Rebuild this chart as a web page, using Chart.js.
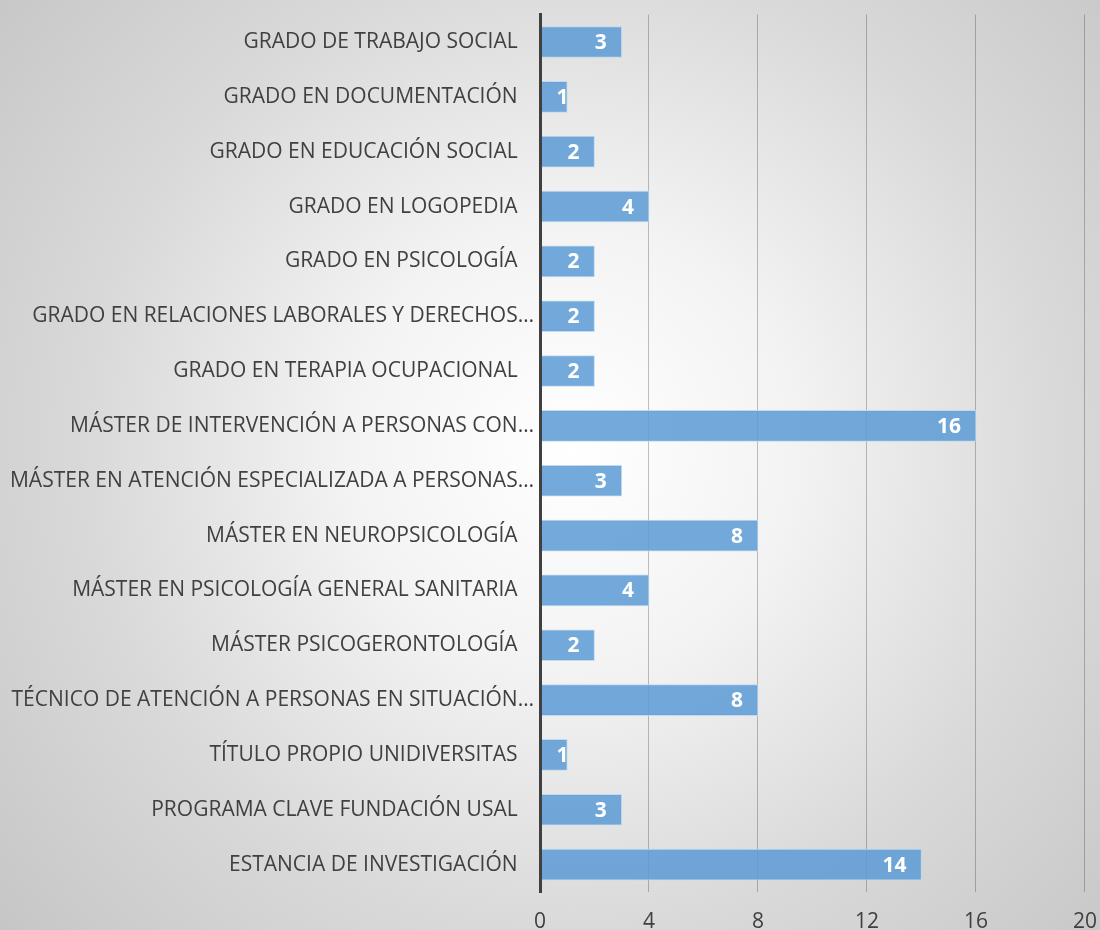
<!DOCTYPE html>
<html lang="es">
    <head>
        <meta charset="UTF-8" />
        <title>Prácticas por titulación</title>
        <style>
            html,
            body {
                margin: 0;
                padding: 0;
                width: 1100px;
                height: 930px;
                overflow: hidden;
                background: radial-gradient(
                    circle at 52% 48%,
                    #ffffff 0%,
                    #f3f3f3 30%,
                    #d9d9d9 65%,
                    #c6c6c6 100%
                );
                font-family: "Open Sans", sans-serif;
            }

            canvas {
                position: absolute;
                left: 0;
                top: -4px;
            }
        </style>
        <script src="https://cdn.jsdelivr.net/npm/chart.js@4"></script>
    </head>
    <body>
        <canvas id="chart" width="1114" height="950"></canvas>
        <script>
            const categories = [
                "GRADO DE TRABAJO SOCIAL",
                "GRADO EN DOCUMENTACIÓN",
                "GRADO EN EDUCACIÓN SOCIAL",
                "GRADO EN LOGOPEDIA",
                "GRADO EN PSICOLOGÍA",
                "GRADO EN RELACIONES LABORALES Y DERECHOS…",
                "GRADO EN TERAPIA OCUPACIONAL",
                "MÁSTER DE INTERVENCIÓN A PERSONAS CON…",
                "MÁSTER EN ATENCIÓN ESPECIALIZADA A PERSONAS…",
                "MÁSTER EN NEUROPSICOLOGÍA",
                "MÁSTER EN PSICOLOGÍA GENERAL SANITARIA",
                "MÁSTER PSICOGERONTOLOGÍA",
                "TÉCNICO DE ATENCIÓN A PERSONAS EN SITUACIÓN…",
                "TÍTULO PROPIO UNIDIVERSITAS",
                "PROGRAMA CLAVE FUNDACIÓN USAL",
                "ESTANCIA DE INVESTIGACIÓN",
            ];
            const alumnos = [3, 1, 2, 4, 2, 2, 2, 16, 3, 8, 4, 2, 8, 1, 3, 14];
            const xTicks = [0, 4, 8, 12, 16, 20];

            const textColor = "#404040";

            // etiquetas blancas dentro del final de cada barra
            const valueLabels = {
                id: "valueLabels",
                afterDatasetsDraw(chart) {
                    const ctx = chart.ctx;
                    const meta = chart.getDatasetMeta(0);
                    ctx.save();
                    ctx.font = "bold 21px 'Open Sans', sans-serif";
                    ctx.fillStyle = "#ffffff";
                    ctx.textBaseline = "middle";
                    ctx.textAlign = "left";
                    meta.data.forEach((bar, i) => {
                        const txt = String(alumnos[i]);
                        const w = ctx.measureText(txt).width;
                        let left = bar.x - 15 - w;
                        if (left < bar.base + 16) left = bar.base + 16;
                        ctx.fillText(txt, left, bar.y + 1);
                    });
                    ctx.restore();
                },
            };

            const ctx = document.getElementById("chart").getContext("2d");
            new Chart(ctx, {
                type: "bar",
                data: {
                    labels: categories,
                    datasets: [
                        {
                            data: alumnos,
                            backgroundColor: "rgba(91, 155, 213, 0.85)",
                            borderColor: "rgba(190, 215, 238, 0.9)",
                            borderWidth: 1,
                            barThickness: 31,
                        },
                    ],
                },
                options: {
                    indexAxis: "y",
                    responsive: false,
                    animation: false,
                    layout: {
                        padding: { top: 13, right: 22, left: 0, bottom: 0 },
                    },
                    plugins: {
                        legend: { display: false },
                        tooltip: { enabled: false },
                    },
                    scales: {
                        x: {
                            min: 0,
                            max: 20,
                            afterBuildTicks(scale) {
                                scale.ticks = xTicks.map((v) => ({ value: v }));
                            },
                            grid: {
                                color: "rgba(0, 0, 0, 0.24)",
                                drawTicks: false,
                            },
                            border: { display: false },
                            ticks: {
                                color: textColor,
                                padding: 17,
                                font: { family: "'Open Sans', sans-serif", size: 21 },
                            },
                            afterFit(scale) {
                                scale.height = 54;
                            },
                        },
                        y: {
                            grid: { display: false, drawTicks: false },
                            border: {
                                display: true,
                                color: "#404040",
                                width: 3,
                                z: 1,
                            },
                            ticks: {
                                color: textColor,
                                padding: 6,
                                font: { family: "'Open Sans', sans-serif", size: 21 },
                                callback(value) {
                                    const lbl = this.getLabelForValue(value);
                                    return lbl.endsWith("…") ? lbl : lbl + "   ";
                                },
                            },
                            afterFit(scale) {
                                scale.width = 540;
                            },
                        },
                    },
                },
                plugins: [valueLabels],
            });
        </script>
    </body>
</html>
